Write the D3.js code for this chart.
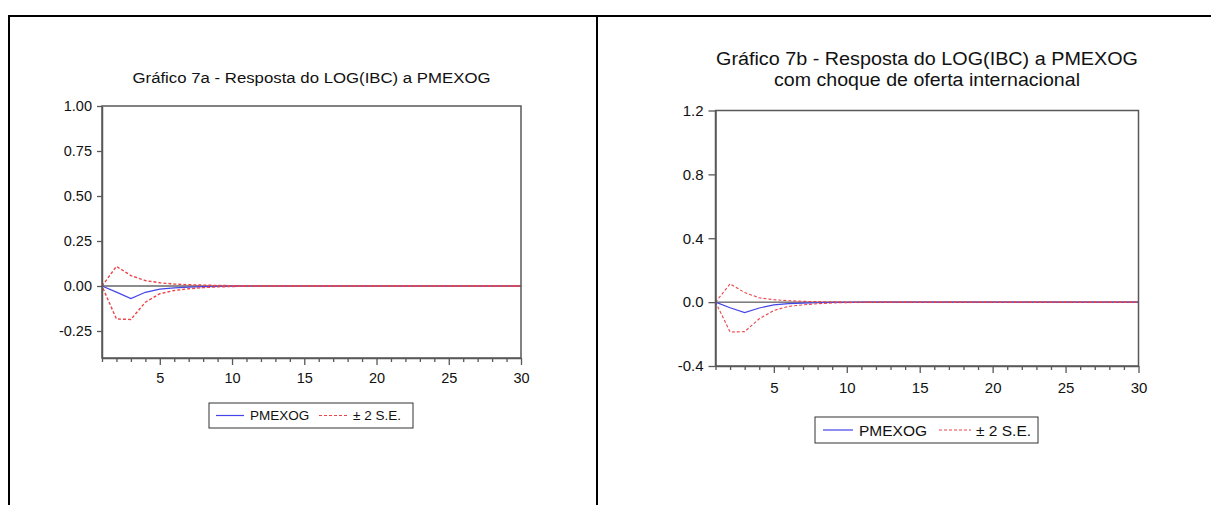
<!DOCTYPE html>
<html>
<head>
<meta charset="utf-8">
<script src="https://cdn.jsdelivr.net/npm/d3@7"></script>
<style>
  html, body { margin: 0; padding: 0; background: #fff; }
  svg { display: block; }
  text { font-family: "Liberation Sans", Arial, sans-serif; fill: #111; }
</style>
</head>
<body>
<script>
// Horizon (periods after the shock)
const periods = [1,2,3,4,5,6,7,8,9,10,11,12,13,14,15,16,17,18,19,20,21,22,23,24,25,26,27,28,29,30];
const majorTicks = [5, 10, 15, 20, 25, 30];

// Gráfico 7a – response of LOG(IBC) to PMEXOG
const respA  = [0, -0.034, -0.070, -0.035, -0.017, -0.010, -0.006, -0.004, -0.002, -0.001, 0, 0, 0, 0, 0, 0, 0, 0, 0, 0, 0, 0, 0, 0, 0, 0, 0, 0, 0, 0];
const upperA = [0, 0.109, 0.058, 0.030, 0.018, 0.011, 0.007, 0.005, 0.003, 0.002, 0.001, 0, 0, 0, 0, 0, 0, 0, 0, 0, 0, 0, 0, 0, 0, 0, 0, 0, 0, 0];
const lowerA = [0, -0.183, -0.186, -0.090, -0.043, -0.025, -0.015, -0.009, -0.005, -0.003, -0.001, 0, 0, 0, 0, 0, 0, 0, 0, 0, 0, 0, 0, 0, 0, 0, 0, 0, 0, 0];
const yTicksA = [-0.25, 0.00, 0.25, 0.50, 0.75, 1.00];

// Gráfico 7b – same response with an international supply shock
const respB  = [0, -0.035, -0.066, -0.037, -0.017, -0.010, -0.006, -0.004, -0.002, -0.001, 0, 0, 0, 0, 0, 0, 0, 0, 0, 0, 0, 0, 0, 0, 0, 0, 0, 0, 0, 0];
const upperB = [0, 0.114, 0.060, 0.027, 0.015, 0.009, 0.005, 0.003, 0.002, 0.001, 0, 0, 0, 0, 0, 0, 0, 0, 0, 0, 0, 0, 0, 0, 0, 0, 0, 0, 0, 0];
const lowerB = [0, -0.187, -0.185, -0.104, -0.052, -0.027, -0.017, -0.010, -0.005, -0.003, -0.002, -0.001, 0, 0, 0, 0, 0, 0, 0, 0, 0, 0, 0, 0, 0, 0, 0, 0, 0, 0];
const yTicksB = [-0.4, 0.0, 0.4, 0.8, 1.2];

const legendLabels = ["PMEXOG", "\u00B1 2 S.E."];

const W = 1211, H = 505;
const BLUE = "#4444ea", RED = "#ec4448", AXIS = "#585858";

const svg = d3.select("body").append("svg").attr("width", W).attr("height", H);

// Outer table frame
svg.append("path")
  .attr("d", "M8,16H1211M9,16V505M597,16V505")
  .attr("fill", "none").attr("stroke", "#000").attr("stroke-width", 2);

// Plain hyphen for negatives, as in the printed axis
const fmt = spec => { const f = d3.format(spec); return d => f(d).replace("\u2212", "-"); };

function panel(o) {
  const g = svg.append("g");
  const x = d3.scaleLinear().domain([1, 30]).range([o.left, o.right]);
  const y = d3.scaleLinear().domain(o.yDomain).range([o.bottom, o.top]);

  // Title
  o.title.forEach((t, i) => {
    g.append("text")
      .attr("x", (o.left + o.right) / 2).attr("y", o.titleY + i * o.titleGap)
      .attr("text-anchor", "middle")
      .attr("font-size", o.titleSize)
      .attr("textLength", o.titleLen[i]).attr("lengthAdjust", "spacingAndGlyphs")
      .text(t);
  });

  // Zero reference line
  g.append("line")
    .attr("x1", x(1)).attr("x2", x(30)).attr("y1", y(0)).attr("y2", y(0))
    .attr("stroke", o.zeroColor).attr("stroke-width", o.zeroWidth);

  const line = d3.line().x((d, i) => x(periods[i])).y(d => y(d));

  g.append("path").datum(o.resp).attr("d", line)
    .attr("fill", "none").attr("stroke", BLUE).attr("stroke-width", 1.2);
  g.append("path").datum(o.upper).attr("d", line)
    .attr("fill", "none").attr("stroke", RED).attr("stroke-width", o.redWidth)
    .attr("stroke-dasharray", "3,2");
  g.append("path").datum(o.lower).attr("d", line)
    .attr("fill", "none").attr("stroke", RED).attr("stroke-width", o.redWidth)
    .attr("stroke-dasharray", "3,2").attr("stroke-dashoffset", o.lowerOffset);

  // Plot frame
  g.append("rect")
    .attr("x", o.left).attr("y", o.top)
    .attr("width", o.right - o.left).attr("height", o.bottom - o.top)
    .attr("fill", "none").attr("stroke", AXIS).attr("stroke-width", 1.5);

  // Y axis
  const ya = g.append("g").attr("transform", `translate(${o.left},0)`)
    .call(d3.axisLeft(y).tickValues(o.yTicks).tickFormat(fmt(o.yFmt))
      .tickSize(o.yTickLen).tickPadding(o.yPad).tickSizeOuter(0));
  ya.select(".domain").attr("stroke", AXIS).attr("stroke-width", 1.5);
  ya.selectAll(".tick line").attr("stroke", AXIS).attr("stroke-width", 1.3);
  ya.selectAll(".tick text").attr("font-size", o.tickSize).attr("fill", "#111")
    .attr("font-family", "Liberation Sans, Arial, sans-serif");

  // X axis (every period ticked, labels every fifth)
  const xa = g.append("g").attr("transform", `translate(0,${o.bottom})`)
    .call(d3.axisBottom(x).tickValues(periods)
      .tickFormat(d => majorTicks.includes(d) ? d : "")
      .tickSize(4).tickSizeOuter(0));
  xa.select(".domain").attr("stroke", AXIS).attr("stroke-width", 1.5);
  xa.selectAll(".tick line").attr("stroke", AXIS).attr("stroke-width", 1.3)
    .attr("y2", d => majorTicks.includes(d) ? 7 : 4);
  xa.selectAll(".tick text").attr("font-size", o.tickSize).attr("fill", "#111")
    .attr("font-family", "Liberation Sans, Arial, sans-serif")
    .attr("y", o.xLabelOff).attr("dy", 0);

  // Legend
  const L = o.legend;
  g.append("rect").attr("x", L.x).attr("y", L.y).attr("width", L.w).attr("height", L.h)
    .attr("fill", "#fff").attr("stroke", "#333").attr("stroke-width", 1);
  const ly = L.y + L.h / 2;
  g.append("line").attr("x1", L.x + L.s1[0]).attr("x2", L.x + L.s1[1]).attr("y1", ly).attr("y2", ly)
    .attr("stroke", BLUE).attr("stroke-width", 1.2);
  g.append("text").attr("x", L.x + L.t1).attr("y", ly).attr("dy", "0.36em")
    .attr("font-size", L.size).text(legendLabels[0]);
  g.append("line").attr("x1", L.x + L.s2[0]).attr("x2", L.x + L.s2[1]).attr("y1", ly).attr("y2", ly)
    .attr("stroke", RED).attr("stroke-width", 1.1).attr("stroke-dasharray", "3,2");
  g.append("text").attr("x", L.x + L.t2).attr("y", ly).attr("dy", "0.36em")
    .attr("font-size", L.size).text(legendLabels[1]);
}

panel({
  title: ["Gráfico 7a - Resposta do LOG(IBC) a PMEXOG"],
  titleLen: [358], titleSize: 15.5, titleY: 83, titleGap: 0,
  left: 102, right: 521, top: 106, bottom: 358,
  yDomain: [-0.4, 1.0], yTicks: yTicksA, yFmt: ".2f",
  yTickLen: 5, yPad: 5, tickSize: 14.5, xLabelOff: 25,
  resp: respA, upper: upperA, lower: lowerA, lowerOffset: 2.5, redWidth: 1.4,
  zeroColor: "#666", zeroWidth: 1.5,
  legend: { x: 209, y: 403, w: 204, h: 25, s1: [7, 35], t1: 41, s2: [110, 139], t2: 144, size: 13.5 }
});

panel({
  title: ["Gráfico 7b - Resposta do LOG(IBC) a PMEXOG", "com choque de oferta internacional"],
  titleLen: [422, 306], titleSize: 18, titleY: 65, titleGap: 21,
  left: 715.5, right: 1138.5, top: 110.5, bottom: 366,
  yDomain: [-0.4, 1.2], yTicks: yTicksB, yFmt: ".1f",
  yTickLen: 7, yPad: 5, tickSize: 15, xLabelOff: 27,
  resp: respB, upper: upperB, lower: lowerB, lowerOffset: 0, redWidth: 1.1,
  zeroColor: "#333", zeroWidth: 1,
  legend: { x: 815, y: 417, w: 223, h: 26, s1: [8, 38], t1: 44, s2: [124, 156], t2: 161, size: 15.5 }
});
</script>
</body>
</html>
